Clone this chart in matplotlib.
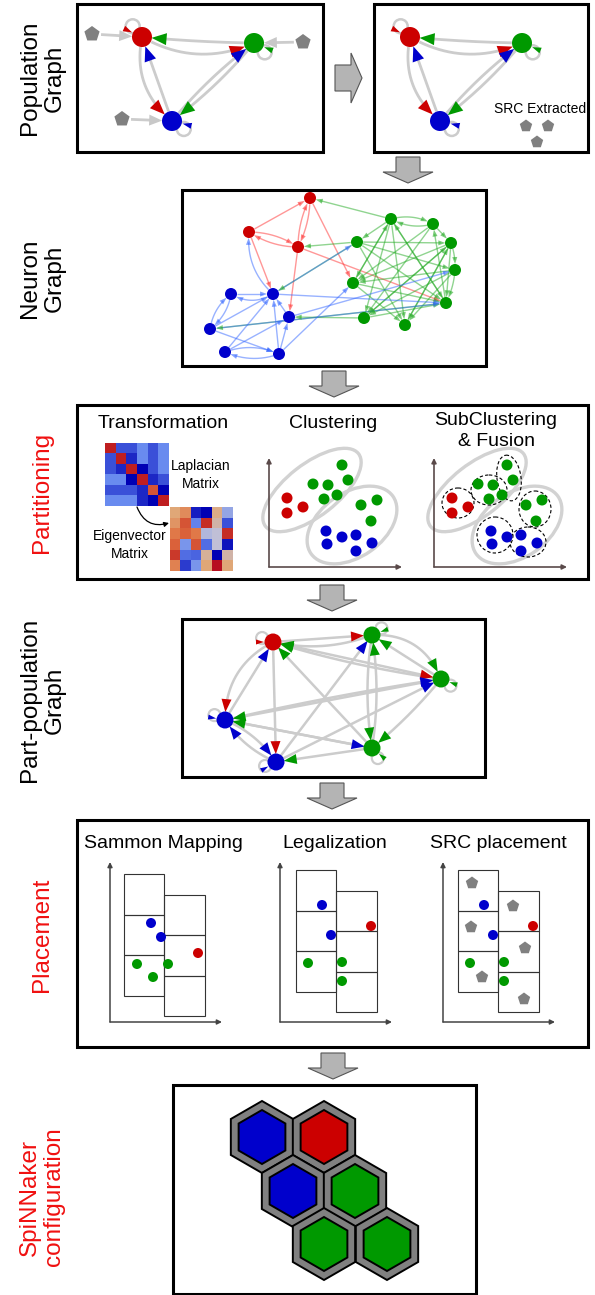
import numpy as np
import matplotlib
matplotlib.use('Agg')
import matplotlib.pyplot as plt
from matplotlib.patches import Polygon, Circle, Ellipse, RegularPolygon, Rectangle
from matplotlib.colors import LinearSegmentedColormap

plt.rcParams['font.family'] = ['Liberation Sans', 'DejaVu Sans']

RED, GREEN, BLUE = '#cc0000', '#009900', '#0000cc'
COL = {'r': RED, 'g': GREEN, 'b': BLUE}
LIGHT = {'r': '#ff3030', 'g': '#22aa22', 'b': '#3366ff'}
LABEL_RED = '#f01010'
EDGE_GRAY = '#cccccc'
PENT_GRAY = '#808080'

# ---------------- data ----------------
# population graph (left panel); right panel is the same graph shifted
POP_X = [142, 254, 172]
POP_Y = [37, 43, 121]
POP_C = ['r', 'g', 'b']
POP_EDGES = [(1, 0, 0.02), (0, 1, -0.25), (2, 0, 0.0), (0, 2, -0.3), (1, 2, 0.06), (2, 1, 0.06)]
POP_LOOPS = [(0, -131, -155), (1, 41, 22), (2, 34, 14)]
SRC_X = [92, 303, 122]
SRC_Y = [34, 42, 119]
SRC_TARGET = [0, 1, 2]
EXTRACT_X = [526, 548, 537]
EXTRACT_Y = [126, 126, 142]

# neuron graph
NEU_X = [310, 249, 298, 391, 433, 357, 451, 455, 353, 446, 364, 405, 231, 273, 289, 210, 225, 279]
NEU_Y = [198, 232, 247, 219, 224, 242, 243, 270, 283, 303, 318, 325, 294, 294, 317, 329, 352, 354]
NEU_C = ['r'] * 3 + ['g'] * 9 + ['b'] * 6
NEU_EDGES = [
    (1, 0, 0), (1, 2, 0.15), (2, 1, 0.15), (0, 2, 0.12), (2, 0, 0.12), (1, 13, 0), (0, 8, 0), (2, 9, 0), (2, 14, 0),
    (3, 0, 0), (3, 4, 0.2), (4, 3, 0.2), (5, 2, 0), (5, 13, 0), (9, 15, 0), (10, 14, 0), (3, 5, 0), (3, 8, 0),
    (3, 10, 0), (3, 9, 0), (3, 11, 0), (4, 8, 0), (4, 10, 0), (4, 6, 0), (5, 6, 0), (5, 7, 0), (5, 9, 0), (6, 8, 0),
    (6, 10, 0), (6, 9, 0), (6, 7, 0.1), (7, 9, 0.1), (7, 8, 0), (7, 11, 0), (8, 9, 0), (8, 11, 0), (9, 3, 0),
    (10, 6, 0), (11, 6, 0), (10, 9, 0), (5, 11, 0), (7, 10, 0), (9, 4, 0), (6, 11, 0), (8, 3, 0),
    (13, 5, 0), (15, 12, 0.2), (12, 15, 0.2), (12, 13, 0), (13, 12, 0.3), (15, 13, 0), (15, 17, 0),
    (16, 17, 0.2), (17, 16, 0.2), (16, 13, 0), (17, 13, 0), (17, 14, 0), (14, 13, 0), (13, 1, 0.25),
    (17, 8, 0), (15, 9, 0), (14, 7, 0), (16, 14, 0), (13, 9, 0)]

# matrices (-1 = dark blue, +1 = dark red)
LAPLACIAN = [[0.9, -0.6, -0.6, -0.3, -0.6, -0.3],
             [-0.6, 0.9, -0.8, -0.3, -0.6, -0.3],
             [-0.6, -0.8, 0.9, -1.0, -0.6, -0.3],
             [-0.3, -0.3, -1.0, 0.9, -0.8, -0.6],
             [-0.6, -0.6, -0.6, -0.8, 0.7, -1.0],
             [-0.3, -0.3, -0.3, -0.8, -1.0, 0.9]]
EIGEN = [[0.3, 0.45, -0.85, -1.0, 0.25, -0.15],
         [0.4, 0.7, -0.35, 0.85, 0.15, -0.6],
         [0.55, 0.65, 0.55, -0.05, 0.0, 0.85],
         [0.65, -0.25, 0.7, -0.45, 0.0, -0.9],
         [0.8, -0.45, -0.5, 0.2, -1.0, 0.15],
         [0.5, -0.7, -0.25, 0.3, 0.95, 0.3]]

# clustering points (SubClustering uses the same points shifted right)
CL_X = [287, 287, 303, 313, 328, 324, 337, 342, 348, 361, 377, 371, 326, 327, 342, 356, 356, 372]
CL_Y = [498, 513, 507, 484, 485, 499, 495, 465, 480, 505, 500, 521, 531, 544, 537, 535, 551, 543]
CL_C = ['r'] * 3 + ['g'] * 9 + ['b'] * 6
CLUSTER_ELL = [(312, 490, 118, 52, -38), (352, 525, 100, 64, -35)]
SUB_ELL = [(458, 503, 32, 30, 0), (489, 490, 36, 30, 0), (509, 478, 24, 46, -8),
           (535, 509, 32, 36, 0), (495, 535, 36, 36, 0), (528, 542, 36, 30, 0)]

# part-population graph
PP_X = [273, 372, 441, 225, 372, 276]
PP_Y = [642, 635, 679, 720, 748, 762]
PP_C = ['r', 'g', 'g', 'b', 'g', 'b']
PP_EDGES = [(0, 1, 0.0), (1, 0, 0.15), (0, 2, 0.0), (2, 0, 0.04), (3, 0, 0.0), (0, 3, -0.3), (0, 5, 0.0),
            (4, 0, 0.0), (1, 2, 0.35), (2, 1, 0.0), (1, 4, -0.08), (4, 1, -0.08), (2, 4, 0.05),
            (3, 2, 0.02), (5, 2, 0.0), (3, 4, 0.0), (5, 1, 0.0), (2, 3, 0.0), (4, 3, 0.0),
            (5, 3, 0.15), (3, 5, 0.15), (4, 5, 0.0)]
PP_LOOPS = [(0, 200, 180), (1, -35, -20), (2, 35, 20), (3, 205, 190), (4, 60, 40), (5, 160, 150)]

# placement
SAM_X = [151, 161, 198, 137, 153, 168]
SAM_Y = [923, 937, 953, 964, 977, 964]
LEG_X = [322, 331, 371, 308, 342, 342]
LEG_Y = [905, 935, 926, 963, 962, 981]
PL_C = ['b', 'b', 'r', 'g', 'g', 'g']
SRCP_X = [472, 513, 471, 525, 482, 524]
SRCP_Y = [883, 906, 927, 948, 977, 999]

# SpiNNaker chips
HEX_X = [262, 324, 293, 355, 324, 387]
HEX_Y = [1137, 1137, 1191, 1191, 1244, 1244]
HEX_C = ['b', 'r', 'b', 'g', 'g', 'g']

# ---------------- drawing ----------------
fig = plt.figure(figsize=(5.95, 12.95), dpi=100)
ax = fig.add_axes([0, 0, 1, 1])
ax.axis('off')


def curve(p1, p2, rad, n=200):
    p1, p2 = np.array(p1, float), np.array(p2, float)
    c = (p1 + p2) / 2 + rad * np.array([p2[1] - p1[1], -(p2[0] - p1[0])])
    t = np.linspace(0, 1, n)[:, None]
    return (1 - t) ** 2 * p1 + 2 * (1 - t) * t * c + t ** 2 * p2


def head(tip, u, L, W, color, alpha=1.0, z=4):
    u = np.asarray(u, float)
    u = u / np.linalg.norm(u)
    nv = np.array([-u[1], u[0]])
    base = tip - L * u
    ax.add_patch(Polygon([tip, base + W / 2 * nv, base - W / 2 * nv], closed=True,
                         fc=color, ec='none', alpha=alpha, zorder=z))


def edge(p1, p2, rad, r1, r2, lcolor, hcolor, lw, L, W, alpha=1.0, halpha=1.0):
    P = curve(p1, p2, rad)
    d1 = np.hypot(*(P - np.array(p1)).T)
    d2 = np.hypot(*(P - np.array(p2)).T)
    keep = (d1 >= r1) & (d2 >= r2 + L * 0.6)
    ax.plot(P[keep, 0], P[keep, 1], color=lcolor, lw=lw, alpha=alpha, zorder=2,
            solid_capstyle='butt')
    i = int(np.argmax(d2 <= r2))
    head(P[i], P[i] - P[max(i - 4, 0)], L, W, hcolor, halpha)


def loop(c, r, ang_l, ang_h, rl, color, lw, L, W):
    c = np.array(c, float)
    a = np.radians(ang_l)
    lc = c + (r + rl * 0.6) * np.array([np.cos(a), np.sin(a)])
    ax.add_patch(Circle(lc, rl, fill=False, ec=EDGE_GRAY, lw=lw, zorder=1))
    h = np.radians(ang_h)
    d = np.array([np.cos(h), np.sin(h)])
    head(c + (r + 1) * d, -d, L, W, color)


def node(x, y, r, color, z=5):
    ax.add_patch(Circle((x, y), r, fc=color, ec='none', zorder=z))


def pent(x, y, r=8):
    ax.add_patch(RegularPolygon((x, y), 5, radius=r, orientation=np.pi, fc=PENT_GRAY, ec='none', zorder=5))


def box(x0, y0, x1, y1, lw=2.2):
    ax.add_patch(Rectangle((x0, y0), x1 - x0, y1 - y0, fill=False, ec='black', lw=lw, zorder=6))


def down_arrow(cx, y0):
    v = [(cx - 12, y0), (cx + 12, y0), (cx + 12, y0 + 15), (cx + 25, y0 + 15), (cx, y0 + 26),
         (cx - 25, y0 + 15), (cx - 12, y0 + 15)]
    ax.add_patch(Polygon(v, closed=True, fc='#b4b4b4', ec='#555555', lw=0.8, zorder=6))


def side_label(y, s, color='black'):
    ax.text(42, y, s, rotation=90, ha='center', va='center', multialignment='center',
            fontsize=17.5, color=color, linespacing=1.15)


def axes_arrows(x0, y0, x1, y1, color, lw=1.2):
    kw = dict(arrowstyle='-|>', color=color, lw=lw, mutation_scale=7, shrinkA=0, shrinkB=0)
    ax.annotate('', xy=(x0, y1), xytext=(x0, y0), arrowprops=kw, zorder=3)
    ax.annotate('', xy=(x1, y0), xytext=(x0, y0), arrowprops=kw, zorder=3)


# ---- Population graph ----
side_label(78, 'Population\nGraph')
box(77, 4, 323, 152)
box(374, 4, 588, 152)
for shift, with_src in [(0, True), (268, False)]:
    px = [x + shift for x in POP_X]
    for s, t, rad in POP_EDGES:
        edge((px[s], POP_Y[s]), (px[t], POP_Y[t]), rad, 10, 10, EDGE_GRAY, COL[POP_C[s]], 2.0, 15, 12)
    for n, al, ah in POP_LOOPS:
        loop((px[n], POP_Y[n]), 10, al, ah, 7, COL[POP_C[n]], 1.8, 9, 6)
    if with_src:
        for sx, sy, t in zip(SRC_X, SRC_Y, SRC_TARGET):
            edge((sx, sy), (px[t], POP_Y[t]), 0, 9, 10, EDGE_GRAY, '#c8c8c8', 2.0, 13, 11)
            pent(sx, sy)
    for x, y, c in zip(px, POP_Y, POP_C):
        node(x, y, 10, COL[c])
ax.text(540, 109, 'SRC Extracted', ha='center', va='center', fontsize=10)
for x, y in zip(EXTRACT_X, EXTRACT_Y):
    pent(x, y, 6.5)
ax.add_patch(Polygon([(335, 65), (351, 65), (351, 53), (362, 78), (351, 103), (351, 91), (335, 91)],
                     closed=True, fc='#b4b4b4', ec='#555555', lw=0.8, zorder=6))
down_arrow(408, 157)

# ---- Neuron graph ----
side_label(278, 'Neuron\nGraph')
box(182, 190, 486, 366)
for s, t, rad in NEU_EDGES:
    c = LIGHT[NEU_C[s]]
    edge((NEU_X[s], NEU_Y[s]), (NEU_X[t], NEU_Y[t]), rad, 6, 6, c, c, 1.0, 7, 5, alpha=0.5, halpha=0.6)
for x, y, c in zip(NEU_X, NEU_Y, NEU_C):
    node(x, y, 6, COL[c])
down_arrow(334, 371)

# ---- Partitioning ----
side_label(492, 'Partitioning', LABEL_RED)
box(77, 405, 588, 579)
cmap = LinearSegmentedColormap.from_list('lap', [(0.0, '#0000b4'), (0.2, '#3a50d8'), (0.35, '#6a8cf0'),
                                                  (0.5, '#c0c0d8'), (0.65, '#e0a878'), (0.8, '#e07040'),
                                                  (0.95, '#c02020'), (1.0, '#b00020')])
ax.imshow(LAPLACIAN, cmap=cmap, vmin=-1, vmax=1, extent=(105, 169, 506, 443), interpolation='nearest', zorder=3)
ax.imshow(EIGEN, cmap=cmap, vmin=-1, vmax=1, extent=(170, 233, 571, 507), interpolation='nearest', zorder=3)
ax.annotate('', xy=(169, 523), xytext=(137, 507),
            arrowprops=dict(arrowstyle='-|>', color='black', lw=0.9, mutation_scale=7,
                            connectionstyle='arc3,rad=0.45', shrinkA=0, shrinkB=0), zorder=4)
ax.text(163, 424, 'Transformation', ha='center', va='center', fontsize=14)
ax.text(201, 475, 'Laplacian\nMatrix', ha='center', va='center', fontsize=10, linespacing=1.3)
ax.text(130, 545, 'Eigenvector\nMatrix', ha='center', va='center', fontsize=10, linespacing=1.3)
ax.text(333, 424, 'Clustering', ha='center', va='center', fontsize=14)
ax.text(496, 431, 'SubClustering\n& Fusion', ha='center', va='center', fontsize=14, linespacing=1.35)

for shift in [0, 165]:
    axes_arrows(269 + shift, 567, 402 + shift, 458, '#5a4a4a')
    for ex, ey, w, h, a in CLUSTER_ELL:
        ax.add_patch(Ellipse((ex + shift, ey), w, h, angle=a, fill=False, ec='#d2d2d2', lw=2.4, zorder=2))
    for x, y, c in zip(CL_X, CL_Y, CL_C):
        node(x + shift, y, 5.5, COL[c])
for ex, ey, w, h, a in SUB_ELL:
    ax.add_patch(Ellipse((ex, ey), w, h, angle=a, fill=False, ec='black', lw=0.8, ls=(0, (3, 2)), zorder=4))
down_arrow(332, 585)

# ---- Part-population graph ----
side_label(700, 'Part-population\nGraph')
box(182, 619, 485, 777)
for s, t, rad in PP_EDGES:
    edge((PP_X[s], PP_Y[s]), (PP_X[t], PP_Y[t]), rad, 8, 8, EDGE_GRAY, COL[PP_C[s]], 1.8, 13, 10)
for n, al, ah in PP_LOOPS:
    loop((PP_X[n], PP_Y[n]), 8, al, ah, 6, COL[PP_C[n]], 1.6, 8, 5)
for x, y, c in zip(PP_X, PP_Y, PP_C):
    node(x, y, 8.5, COL[c])
down_arrow(332, 783)

# ---- Placement ----
side_label(935, 'Placement', LABEL_RED)
box(77, 820, 588, 1047)
ax.text(163, 844, 'Sammon Mapping', ha='center', va='center', fontsize=14)
ax.text(335, 844, 'Legalization', ha='center', va='center', fontsize=14)
ax.text(498, 844, 'SRC placement', ha='center', va='center', fontsize=14)
for axx, gx, gy, px, py, with_src in [(110, 124, 874, SAM_X, SAM_Y, False),
                                      (280, 296, 870, LEG_X, LEG_Y, False),
                                      (443, 458, 870, [x + 162 for x in LEG_X], LEG_Y, True)]:
    axes_arrows(axx, 1022, axx + 112, 862, '#444444', lw=1.1)
    for k in range(3):
        ax.add_patch(Rectangle((gx, gy + 40.5 * k), 40, 40.5, fill=False, ec='#333333', lw=0.8, zorder=3))
        ax.add_patch(Rectangle((gx + 40, gy + 20.5 + 40.5 * k), 41, 40.5, fill=False, ec='#333333', lw=0.8, zorder=3))
    for x, y, c in zip(px, py, PL_C):
        node(x, y, 5, COL[c])
    if with_src:
        for x, y in zip(SRCP_X, SRCP_Y):
            pent(x, y, 6.5)
down_arrow(333, 1053)

# ---- SpiNNaker configuration ----
side_label(1197, 'SpiNNaker\nconfiguration', LABEL_RED)
box(173, 1085, 476, 1294)
for x, y, c in zip(HEX_X, HEX_Y, HEX_C):
    ax.add_patch(RegularPolygon((x, y), 6, radius=36, fc='#808080', ec='black', lw=1.4, zorder=3))
    ax.add_patch(RegularPolygon((x, y), 6, radius=27, fc=COL[c], ec='black', lw=1.4, zorder=4))

ax.set_xlim(0, 595)
ax.set_ylim(1295, 0)
ax.set_aspect('auto')
fig.savefig('out.png', dpi=100)
